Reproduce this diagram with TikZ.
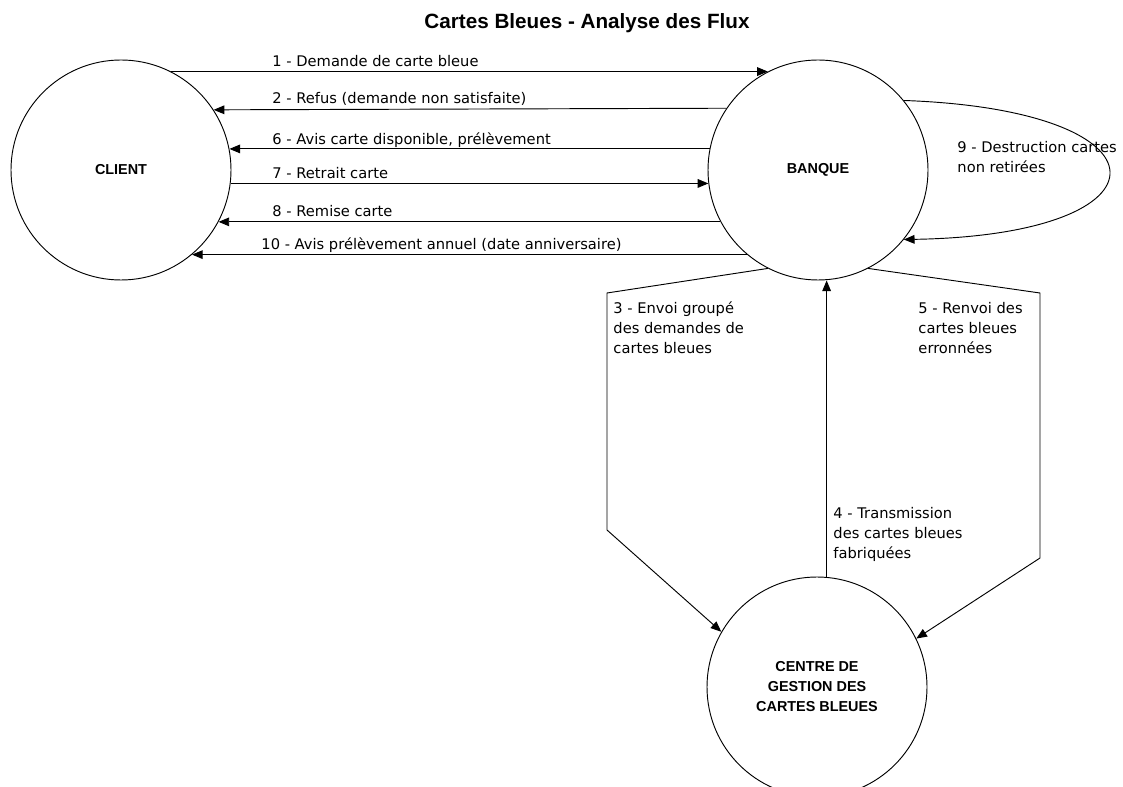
\documentclass[tikz,border=0pt]{standalone}
\usepackage{fontspec}
\setmainfont{DejaVu Sans}
\newfontfamily\helv{Liberation Sans}
\usetikzlibrary{arrows.meta}

\begin{document}
\begin{tikzpicture}[x=0.75pt, y=-0.75pt, line width=0.7pt,
  every node/.style={font=\fontsize{11}{15}\selectfont},
  bulle/.style={draw, circle, minimum size=165pt, inner sep=0pt, align=center,
    font=\helv\bfseries\fontsize{10.8}{15}\selectfont},
  flux/.style={-{Triangle[length=8pt,width=6.5pt]}},
  lbl/.style={anchor=base west, inner sep=0pt, align=left}]
  \useasboundingbox (0,0) rectangle (1123,787);

  \node[anchor=base, font=\helv\bfseries\fontsize{15.5}{18}\selectfont] (titre) at (587,29) {Cartes Bleues - Analyse des Flux};

  \node[bulle] (client) at (121,170) {CLIENT};
  \node[bulle] (banque) at (818,170) {BANQUE};
  \node[bulle] (centre) at (817,687) {CENTRE DE\\GESTION DES\\CARTES BLEUES};

  % client <-> banque
  \draw[flux] (client.63) -- (banque.117);
  \draw[flux] (banque.146.3) -- (client.33.7);
  \draw[flux] (banque.169) -- (client.11);
  \draw[flux] (client.-7.3) -- (banque.187.3);
  \draw[flux] (banque.208.2) -- (client.-28.2);
  \draw[flux] (banque.230.6) -- (client.-50.6);

  \node[lbl] (l1) at (272,67) {1 - Demande de carte bleue};
  \node[lbl] (l2) at (272,104) {2 - Refus (demande non satisfaite)};
  \node[lbl] (l6) at (272,144.5) {6 - Avis carte disponible, prélèvement};
  \node[lbl] (l7) at (272,178.5) {7 - Retrait carte};
  \node[lbl] (l8) at (272,216.5) {8 - Remise carte};
  \node[lbl] (l10) at (261,249.5) {10 - Avis prélèvement annuel (date anniversaire)};

  % boucle banque
  \draw[flux] (banque.39) .. controls (1177,110) and (1177,235) .. (banque.-39);
  \node[lbl] (l9) at (957,173) {9 - Destruction cartes\\non retirées};

  % banque <-> centre
  \draw[flux] (banque.243) -- (607,293) -- (607,530) -- (centre.150);
  \draw[flux] (banque.297) -- (1040,293) -- (1040,558) -- (centre.26);
  \draw[flux] (centre.85) -- (centre.85 |- banque.south);

  \node[lbl] (l3) at (613,354) {3 - Envoi groupé\\des demandes de\\cartes bleues};
  \node[lbl] (l5) at (918,354) {5 - Renvoi des\\cartes bleues\\erronnées};
  \node[lbl] (l4) at (833,558) {4 - Transmission\\des cartes bleues\\fabriquées};
\end{tikzpicture}
\end{document}
